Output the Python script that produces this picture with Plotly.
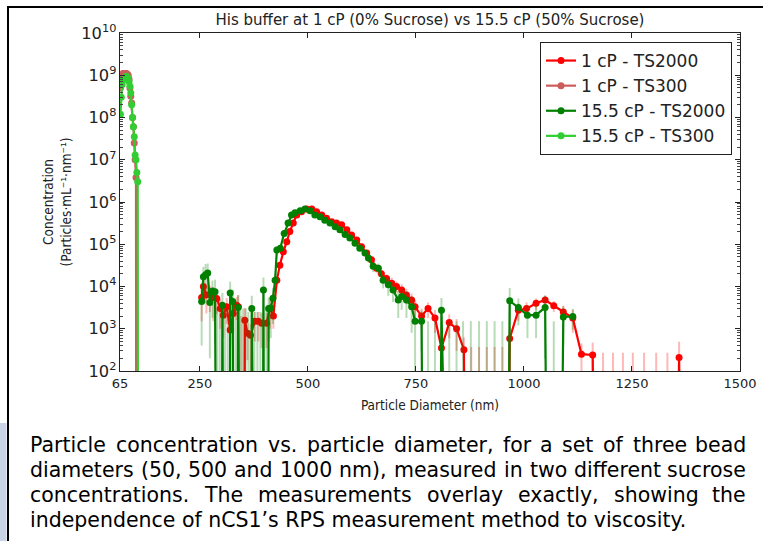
import plotly.graph_objects as go

# ---------------- data ----------------
# 1 cP, TS300 (small beads)
x_r300 = [66, 68, 70, 72, 74, 76, 78, 80, 82, 84, 86, 88, 90, 92, 94, 96, 98, 100, 102, 104]
y_r300 = [5e8, 8e8, 1e9, 1.1e9, 1.1e9, 1.05e9, 1.1e9, 1.1e9, 1.05e9, 1e9, 8e8, 5e8, 3.2e8,
          2.2e8, 1e8, 6e7, 2.5e7, 1e7, 3.8e6, 0]

# 15.5 cP, TS300
x_g300 = [66, 68, 70, 72, 74, 76, 78, 80, 82, 84, 86, 88, 90, 92, 94, 96, 98, 100, 102, 104, 106, 108]
y_g300 = [1.2e8, 3e8, 6e8, 8e8, 8.5e8, 8e8, 9e8, 9.5e8, 9e8, 8e8, 7e8, 5.5e8, 3.8e8, 2e8, 1e8,
          6e7, 3.5e7, 1.3e7, 1e7, 5e6, 3e6, 0]

# 1 cP, TS2000
x_r2000 = [254, 258, 265, 273, 281, 289, 297, 304, 312, 320, 327, 335, 339, 346, 354, 360, 367,
           377, 385, 393, 404, 412, 420, 428, 435, 443, 451, 458, 466, 474, 485, 497, 509, 520,
           532, 543, 555, 566, 578, 590, 601, 613, 624, 636, 647, 659, 670, 682, 694, 705, 717,
           728, 740, 748, 763, 778, 794, 809, 827, 844, 861, 878, 896, 914, 932, 950, 967, 987,
           1006, 1028, 1049, 1069, 1091, 1113, 1133, 1159, 1183, 1206, 1229, 1252, 1278, 1306,
           1332, 1359, 1385]
y_r2000 = [5.5e3, 1e4, 6.3e3, 6.5e3, 5.5e3, 5.2e3, 3e3, 2.1e3, 3.3e3, 930, 2.3e3, 3.6e3, 3.3e3,
           0, 1.6e3, 780, 700, 1.5e3, 1.5e3, 1.35e3, 1.35e3, 3e3, 2e3, 1.4e4, 3.2e4, 6.6e4,
           1.15e5, 2e5, 3.2e5, 4.9e5, 5.9e5, 6.8e5, 6.8e5, 5.9e5, 4.9e5, 4.1e5, 3.4e5, 3.2e5,
           2.9e5, 2.2e5, 1.65e5, 1.26e5, 8.7e4, 6.2e4, 4.3e4, 2.7e4, 2e4, 1.55e4, 1.2e4, 1e4,
           8.3e3, 6.3e3, 4.8e3, 3.3e3, 2e3, 3e3, 1.8e3, 350, 1.4e3, 1e3, 320, 0, 0, 0, 0, 0, 590,
           2.75e3, 3e3, 4e3, 4.8e3, 3.5e3, 2.5e3, 1.8e3, 250, 240, 0, 0, 0, 0, 0, 0, 0, 210, 0]
e_r2000 = [4e3, 6e3, 4e3, 4e3, 4e3, 3e3, 2e3, 1.5e3, 2e3, 900, 1.5e3, 2e3, 3e3, 2e3, 1.5e3, 600,
           600, 1e3, 1e3, 1e3, 1e3, 2e3, 1e3, 4e3, 6e3, 8e3, 1.2e4, 2e4, 2.5e4, 3e4, 3.5e4, 4e4,
           4e4, 3.5e4, 3e4, 3e4, 2.5e4, 2.5e4, 2.5e4, 2e4, 1.8e4, 1.5e4, 1.2e4, 1e4, 8e3, 6e3,
           5e3, 4e3, 4e3, 3e3, 3e3, 2.5e3, 2e3, 1.5e3, 1e3, 1.2e3, 1e3, 300, 800, 700, 300, 370,
           370, 370, 370, 370, 500, 1.2e3, 1.2e3, 1.2e3, 1.2e3, 1e3, 1e3, 1e3, 200, 230, 270, 270,
           270, 270, 270, 270, 270, 280, 0]

# 15.5 cP, TS2000
x_g2000 = [254, 258, 263, 268, 273, 279, 285, 290, 296, 302, 308, 314, 320, 326, 332, 338, 344,
           350, 356, 362, 370, 376, 383, 390, 397, 404, 409, 414, 419, 424, 428, 436, 445, 454,
           462, 470, 482, 493, 505, 516, 528, 539, 551, 563, 574, 586, 597, 609, 620, 632, 640,
           651, 663, 674, 686, 697, 709, 717, 728, 740, 748, 763, 778, 794, 809, 827, 844, 859,
           877, 896, 914, 932, 950, 967, 987, 1008, 1028, 1049, 1069, 1091, 1113]
y_g2000 = [4.4e3, 1.7e4, 1.9e4, 2.1e4, 4.2e3, 7.8e3, 7.5e3, 0, 0, 3.6e3, 0, 0, 7e3, 4.4e3, 0,
           3.2e3, 0, 0, 0, 0, 3e3, 0, 0, 0, 8.3e3, 0, 3e3, 3.1e3, 5.3e3, 1.4e4, 7.3e4, 8e4,
           1.8e5, 3.2e5, 4.9e5, 5.6e5, 6.2e5, 6.8e5, 6.2e5, 4.9e5, 4.5e5, 3.7e5, 3.2e5, 2.6e5,
           2.2e5, 1.7e5, 1.4e5, 1.05e5, 8e4, 6.2e4, 4.7e4, 3e4, 2.7e4, 1.4e4, 1.1e4, 8.3e3,
           4.8e3, 5.8e3, 4.8e3, 3.3e3, 1.5e3, 1.5e3, 0, 0, 2.75e3, 0, 0, 0, 0, 0, 0, 0, 0, 4.6e3,
           3.2e3, 2.1e3, 2.1e3, 3.2e3, 0, 1.9e3, 1.95e3]
e_g2000 = [4e3, 1.2e4, 1.5e4, 1.4e4, 4e3, 6e3, 7e3, 3e3, 3e3, 3.5e3, 3e3, 3e3, 6e3, 4e3, 4e3,
           3e3, 3e3, 3e3, 3e3, 2.5e3, 3e3, 2.5e3, 2.5e3, 2.5e3, 8e3, 3e3, 2.5e3, 2.5e3, 4e3,
           6e3, 1.5e4, 1.5e4, 2.5e4, 3e4, 4e4, 4e4, 4e4, 5e4, 4e4, 4e4, 3.5e4, 3e4, 3e4, 2.5e4,
           2e4, 2e4, 1.8e4, 1.5e4, 1.2e4, 1e4, 1e4, 8e3, 8e3, 5e3, 5e3, 4e3, 3e3, 3e3, 3e3,
           2.5e3, 1.5e3, 1.2e3, 1.5e3, 1.5e3, 2.6e3, 1.5e3, 1.5e3, 1.5e3, 1.5e3, 1.5e3, 1.5e3,
           1.5e3, 1.5e3, 4.6e3, 2e3, 1.5e3, 1.5e3, 3e3, 1.5e3, 1.5e3, 1e3]

x_ticks = [65, 250, 500, 750, 1000, 1250, 1500]

title_text = "His buffer at 1 cP (0% Sucrose) vs 15.5 cP (50% Sucrose)"
caption_lines = [
    "Particle concentration vs. particle diameter, for a set of three bead",
    "diameters (50, 500 and 1000 nm), measured in two different sucrose",
    "concentrations. The measurements overlay exactly, showing the",
    "independence of nCS1’s RPS measurement method to viscosity.",
]

# ---------------- layout geometry ----------------
W, H = 763, 541
L, R, T, B = 120, 23, 33, 170
PW, PH = W - L - R, H - T - B


def px(x):
    return (x - L) / PW


def py(y):
    return (H - B - y) / PH


TINY = 1e-20


def prep(vals):
    return [v if v > 0 else TINY for v in vals]


def err_minus(vals, errs):
    return [e if v > 0 else 0 for v, e in zip(vals, errs)]


fig = go.Figure()

fig.add_trace(go.Scatter(
    x=x_r2000, y=prep(y_r2000), mode="lines+markers", name="1 cP - TS2000",
    legendgroup="a", line=dict(color="#ff0000", width=2.2),
    marker=dict(color="#ff0000", size=7),
    error_y=dict(type="data", array=e_r2000, arrayminus=err_minus(y_r2000, e_r2000),
                 color="rgba(255,0,0,0.28)", thickness=2, width=0)))
fig.add_trace(go.Scatter(
    x=x_r300, y=prep(y_r300), mode="lines+markers", name="1 cP - TS300",
    legendgroup="b", line=dict(color="#cd5c5c", width=2.2),
    marker=dict(color="#cd5c5c", size=7)))
fig.add_trace(go.Scatter(
    x=x_g2000, y=prep(y_g2000), mode="lines+markers", name="15.5 cP - TS2000",
    legendgroup="c", line=dict(color="#007f00", width=2.2),
    marker=dict(color="#007f00", size=7),
    error_y=dict(type="data", array=e_g2000, arrayminus=err_minus(y_g2000, e_g2000),
                 color="rgba(0,128,0,0.28)", thickness=2, width=0)))
fig.add_trace(go.Scatter(
    x=x_g300, y=prep(y_g300), mode="lines+markers", name="15.5 cP - TS300",
    legendgroup="d", line=dict(color="#32cd32", width=2.2),
    marker=dict(color="#32cd32", size=7)))

tick_font = dict(family="DejaVu Sans", size=13, color="#222222")
title_font = dict(family="DejaVu Sans Condensed, Liberation Sans Narrow, DejaVu Sans", size=13.5,
                  color="#222222")

fig.update_layout(
    width=W, height=H,
    margin=dict(l=L, r=R, t=T, b=B, autoexpand=False),
    paper_bgcolor="white", plot_bgcolor="white",
    showlegend=True,
    title=dict(text=title_text, x=0.5, xref="paper", xanchor="center",
               y=1 - 20 / H, yref="container", yanchor="middle",
               font=dict(family="DejaVu Sans", size=15, color="#222222")),
    legend=dict(x=px(540), y=py(42), xanchor="left", yanchor="top",
                bgcolor="white", bordercolor="#222222", borderwidth=1,
                font=dict(family="DejaVu Sans", size=17, color="#222222"),
                tracegroupgap=0, itemwidth=30),
    xaxis=dict(range=[65, 1500], tickvals=x_ticks, ticktext=[str(v) for v in x_ticks],
               showgrid=False, zeroline=False, showline=True, linecolor="#222222",
               linewidth=1, mirror="allticks", ticks="inside", ticklen=5,
               tickcolor="#222222", tickfont=tick_font,
               title=dict(text="Particle Diameter (nm)", font=title_font, standoff=10)),
    yaxis=dict(type="log", range=[2, 10], dtick=1, exponentformat="power",
               showgrid=False, zeroline=False, showline=True, linecolor="#222222",
               linewidth=1, mirror="allticks", ticks="inside", ticklen=5,
               tickcolor="#222222", tickfont=tick_font,
               minor=dict(ticks="inside", ticklen=3, dtick="D1", tickcolor="#444444"),
               title=dict(text="Concentration<br>(Particles·mL⁻¹·nm⁻¹)", font=title_font,
                          standoff=6)),
)

# page frame
fig.add_shape(type="rect", xref="paper", yref="paper", x0=px(0), x1=px(6.5), y0=py(423),
              y1=py(541), fillcolor="#c9d3e6", line=dict(width=0), layer="below")
fig.add_shape(type="line", xref="paper", yref="paper", x0=px(8), x1=px(8), y0=py(6.5),
              y1=py(541), line=dict(color="black", width=2))
fig.add_shape(type="line", xref="paper", yref="paper", x0=px(7), x1=px(763), y0=py(7),
              y1=py(7), line=dict(color="black", width=2))

# caption: fully justified lines, emulated by placing each word
# (approximate DejaVu Sans advance widths, in em)
EM = {" ": .318, "P": .603, "a": .613, "r": .411, "t": .392, "i": .278, "c": .550, "l": .278,
      "e": .615, "o": .612, "n": .634, "v": .592, "s": .521, ".": .318, "p": .635, "d": .635,
      "m": .974, ",": .318, "f": .352, "h": .634, "b": .635, "(": .390, ")": .390, "u": .634,
      "w": .818, "T": .611, "x": .592, "y": .592, "g": .635, "C": .698, "S": .635, "R": .695,
      "’": .318}
CAP_SIZE = 20.5
CAP_X0, CAP_X1 = 29, 747


def word_w(w):
    return sum(EM.get(ch, 0.636) for ch in w) * CAP_SIZE


line_centers = [445, 470, 495, 520]
cap_font = dict(family="DejaVu Sans", size=CAP_SIZE, color="black")
for i, line in enumerate(caption_lines):
    y = py(line_centers[i])
    if i == len(caption_lines) - 1:
        fig.add_annotation(text=line, xref="paper", yref="paper", x=px(CAP_X0), y=y,
                           xanchor="left", yanchor="middle", showarrow=False,
                           borderpad=0, font=cap_font)
        continue
    words = line.split(" ")
    widths = [word_w(w) for w in words]
    gap = (CAP_X1 - CAP_X0 - sum(widths)) / (len(words) - 1)
    xpos = CAP_X0
    for j, (w, ww) in enumerate(zip(words, widths)):
        if j == len(words) - 1:
            fig.add_annotation(text=w, xref="paper", yref="paper", x=px(CAP_X1), y=y,
                               xanchor="right", yanchor="middle", showarrow=False,
                               borderpad=0, font=cap_font)
        else:
            fig.add_annotation(text=w, xref="paper", yref="paper", x=px(xpos), y=y,
                               xanchor="left", yanchor="middle", showarrow=False,
                               borderpad=0, font=cap_font)
        xpos += ww + gap

fig.write_html("out.html", config={"displayModeBar": False})

# remove the browser's default page margin so the figure starts at the window corner
with open("out.html", encoding="utf-8") as f:
    html = f.read()
html = html.replace("<head>", "<head><style>html,body{margin:0;padding:0;overflow:hidden;}</style>", 1)
with open("out.html", "w", encoding="utf-8") as f:
    f.write(html)
